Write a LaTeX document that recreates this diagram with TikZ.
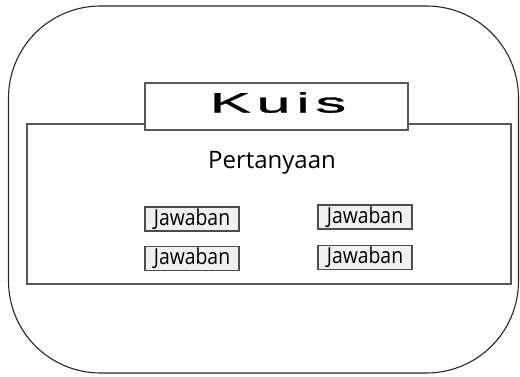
\documentclass[tikz,border=0pt]{standalone}
\usepackage{fontspec}
\setmainfont{Open Sans}
\newfontfamily\kuisfont[FakeStretch=2.2,LetterSpace=20,FakeBold=1.2]{Liberation Sans}
\newfontfamily\jawabfont[FakeStretch=0.88]{Open Sans}
\usepackage{tikz}

\tikzset{
  frame/.style={draw=black!65, line width=1.3pt},
  titlebox/.style={frame, fill=white, minimum width=263pt, minimum height=47pt, inner sep=0pt},
  answerbox/.style={draw=black!70, line width=1.2pt, fill=black!6, minimum width=94pt, minimum height=24pt, inner sep=0pt, font=\jawabfont\fontsize{22}{23}\selectfont}
}

\begin{document}
\begin{tikzpicture}[x=1pt,y=-1pt]
\useasboundingbox (0,0) rectangle (520,377);

% Define coordinates for easier positioning
\coordinate (OA) at (8.5,6);
\coordinate (OB) at (518.5,373);
\coordinate (IA) at (27,124);
\coordinate (IB) at (511,284);

% Draw the rounded outer screen
\draw[black!85, line width=1.1pt, rounded corners=92pt] (OA) rectangle (OB);

% Draw the question panel
\draw[frame] (IA) rectangle (IB);

% Add the title box
\node[titlebox] (title) at (276.5,106.5) {};
\node (kuis) at (278,102.5) {\kuisfont\fontsize{28}{29}\selectfont Kuis};

% Add the question
\node[font=\fontsize{24}{25}\selectfont] (soal) at (272,163) {Pertanyaan};

% Draw the answer boxes
\node[answerbox] (ans1) at (192,219) {Jawaban};
\node[answerbox] (ans2) at (365,217) {Jawaban};
\node[answerbox] (ans3) at (192,258.5) {Jawaban};
\node[answerbox] (ans4) at (365,257.5) {Jawaban};

\end{tikzpicture}
\end{document}
